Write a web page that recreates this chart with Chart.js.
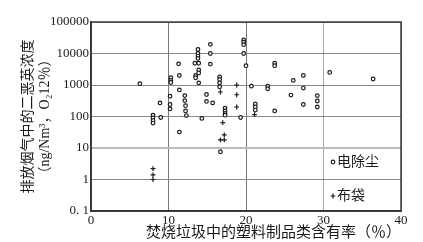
<!DOCTYPE html>
<html>
<head>
<meta charset="utf-8">
<script src="https://cdn.jsdelivr.net/npm/chart.js@4/dist/chart.umd.min.js"></script>
<style>
  body { margin: 0; background: #fff; }
</style>
</head>
<body>
<canvas id="chart" width="423" height="242"></canvas>
<script>
// 电除尘 (circles)
const espX = [6.3, 8.0, 8.0, 8.0, 8.0, 8.9, 9.0, 10.2, 10.2, 10.2, 10.3, 10.3, 10.3,
    11.3, 11.4, 11.4, 11.4, 12.1, 12.1, 12.2, 12.2, 12.3, 13.4, 13.5, 13.5,
    13.8, 13.8, 13.8, 13.8, 13.9, 13.9, 13.9, 13.9, 14.3, 14.9, 14.9,
    15.4, 15.4, 15.4, 15.7, 16.6, 16.6, 16.6, 16.6, 16.7, 17.3, 17.3, 17.3, 17.3,
    19.3, 19.7, 19.7, 19.7, 19.7, 20.0, 20.7, 21.2, 21.2, 21.2, 22.8, 22.8,
    23.7, 23.7, 23.7, 25.8, 26.1, 27.4, 27.4, 27.4, 29.2, 29.2, 29.2, 30.8, 36.4];
const espY = [1100, 110, 90, 75, 62, 270, 93, 440, 240, 175, 1700, 1400, 1200,
    4700, 2000, 700, 32, 460, 320, 220, 150, 107, 4900, 2000, 1700,
    13500, 10000, 8300, 7000, 4900, 3000, 2400, 1170, 87, 500, 300,
    19500, 10000, 4600, 270, 1800, 1500, 1170, 880, 7.6, 185, 150, 125, 110,
    93, 27000, 23000, 19000, 10000, 4100, 920, 250, 200, 160, 920, 760,
    4900, 4100, 150, 480, 1400, 2000, 800, 240, 460, 310, 200, 2500, 1550];

// 布袋 (crosses)
const bagX = [8.0, 8.0, 8.0, 16.7, 17.0, 17.2, 16.7, 17.2, 18.8, 18.8, 18.8, 21.1];
const bagY = [2.2, 1.4, 1.0, 600, 64, 26, 18, 18, 1000, 490, 200, 115];

const xTicks = [0, 10, 20, 30, 40];
const yTicks = [0.1, 1, 10, 100, 1000, 10000, 100000];
const yTickLabels = ['0. 1', '1', '10', '100', '1000', '10000', '100000'];

const seriesNames = ['电除尘', '布袋'];

function toPoints(xs, ys) {
    return xs.map((x, i) => ({ x: x, y: ys[i] }));
}

const serif = '"Liberation Serif", "DejaVu Serif", "Noto Sans CJK SC", serif';
const cjk = '"Liberation Serif", "Noto Sans CJK SC", sans-serif';
const ink = '#1a1a1a';

// frame on top and right
const framePlugin = {
    id: 'frame',
    afterDatasetsDraw(chart) {
        const { ctx, chartArea: a } = chart;
        ctx.save();
        ctx.strokeStyle = '#333';
        ctx.lineWidth = 1.4;
        ctx.strokeRect(a.left, a.top, a.right - a.left, a.bottom - a.top);
        ctx.restore();
    }
};

// legend inside plot, bottom right
const insideLegend = {
    id: 'insideLegend',
    afterDraw(chart) {
        const { ctx, chartArea: a } = chart;
        const rows = [a.bottom - 49, a.bottom - 15];
        ctx.save();
        chart.data.datasets.forEach((ds, i) => {
            const mx = a.right - 68;
            const my = rows[i];
            ctx.strokeStyle = ink;
            ctx.fillStyle = '#fff';
            ctx.lineWidth = ds.borderWidth;
            Chart.helpers.drawPoint(ctx, {
                pointStyle: ds.pointStyle,
                radius: ds.pointRadius,
                borderWidth: ds.borderWidth,
                rotation: 0
            }, mx, my);
            ctx.fillStyle = ink;
            ctx.font = '14px ' + cjk;
            ctx.textBaseline = 'middle';
            ctx.textAlign = 'left';
            ctx.fillText(ds.label, mx + 4, my);
        });
        ctx.restore();
    }
};

new Chart(document.getElementById('chart'), {
    type: 'scatter',
    data: {
        datasets: [{
            label: seriesNames[0],
            data: toPoints(espX, espY),
            pointStyle: 'circle',
            pointRadius: 1.8,
            borderWidth: 1.2,
            borderColor: ink,
            backgroundColor: '#fff'
        }, {
            label: seriesNames[1],
            data: toPoints(bagX, bagY),
            pointStyle: 'cross',
            pointRadius: 2.4,
            borderWidth: 1.2,
            borderColor: ink,
            backgroundColor: ink
        }]
    },
    options: {
        responsive: false,
        animation: false,
        devicePixelRatio: 1,
        layout: { padding: { top: 22, right: 22, left: 0, bottom: 0 } },
        plugins: {
            legend: { display: false },
            tooltip: { enabled: false }
        },
        scales: {
            x: {
                type: 'linear',
                min: 0,
                max: 40,
                afterBuildTicks: (scale) => {
                    scale.ticks = xTicks.map(v => ({ value: v }));
                },
                afterFit: (scale) => { scale.height = 31; },
                grid: {
                    drawTicks: false,
                    color: (c) => (c.tick && c.tick.value === 30) ? '#aaa' : '#777',
                    lineWidth: 1
                },
                border: { color: '#333', width: 1.4 },
                ticks: {
                    padding: 2,
                    color: ink,
                    font: { family: serif, size: 13 }
                },
                title: {
                    display: true,
                    text: '焚烧垃圾中的塑料制品类含有率（％）',
                    align: 'end',
                    color: ink,
                    font: { family: cjk, size: 15 },
                    padding: { top: 0, bottom: 0 }
                }
            },
            y: {
                type: 'logarithmic',
                min: 0.1,
                max: 100000,
                afterBuildTicks: (scale) => {
                    scale.ticks = yTicks.map(v => ({ value: v }));
                },
                afterFit: (scale) => { scale.width = 91; },
                grid: {
                    drawTicks: false,
                    color: (c) => (c.tick && c.tick.value === 10) ? '#bbb' : '#888',
                    lineWidth: (c) => (c.tick && c.tick.value === 10) ? 2 : 1
                },
                border: { color: '#333', width: 1.4 },
                ticks: {
                    autoSkip: false,
                    padding: 2,
                    color: ink,
                    font: { family: serif, size: 13 },
                    callback: (value, index) => yTickLabels[index]
                },
                title: {
                    display: true,
                    text: ['排放烟气中的二恶英浓度', '（ng/Nm³，O₂12％）'],
                    color: ink,
                    font: { family: cjk, size: 14 },
                    padding: { top: 20, bottom: 0 }
                }
            }
        }
    },
    plugins: [framePlugin, insideLegend]
});
</script>
</body>
</html>
